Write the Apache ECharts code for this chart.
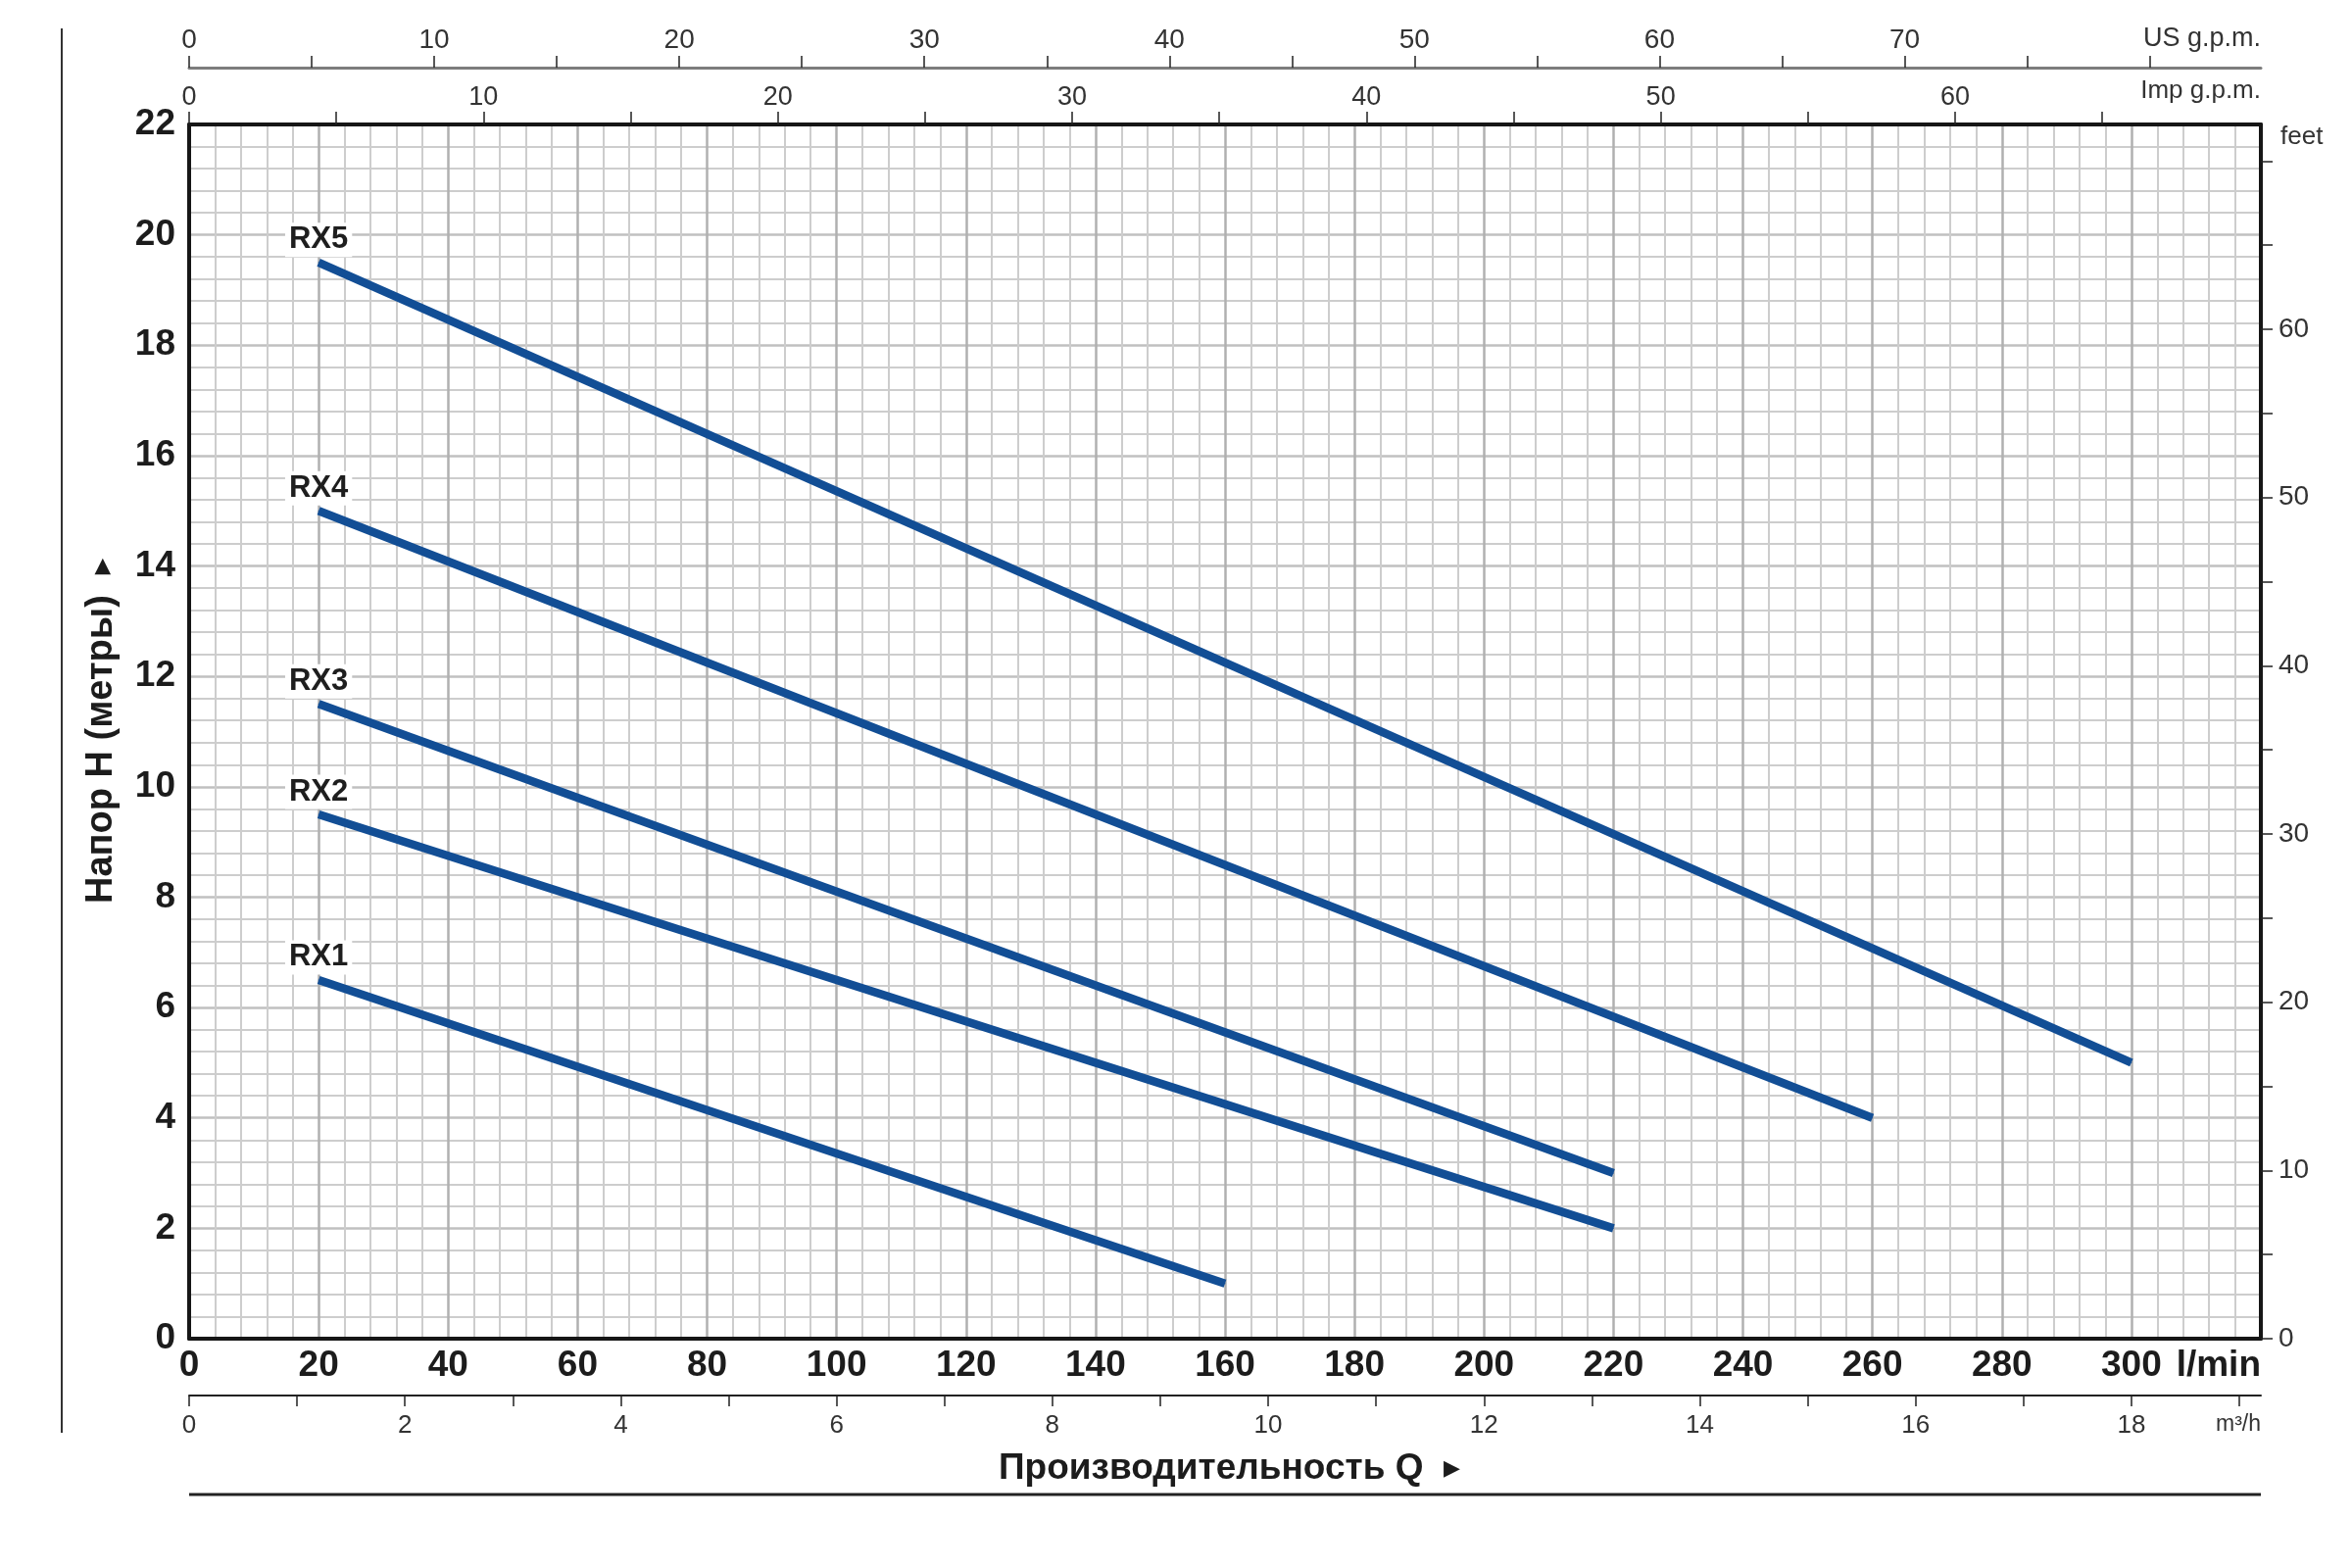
<!DOCTYPE html>
<html>
<head>
<meta charset="utf-8">
<script src="https://cdn.jsdelivr.net/npm/echarts@6/dist/echarts.min.js"></script>
<style>
html,body{margin:0;padding:0;background:#fff}
#chart{width:2400px;height:1600px}
</style>
</head>
<body>
<div id="chart"></div>
<script>
// ---- data ----
const seriesNames = ['RX1', 'RX2', 'RX3', 'RX4', 'RX5'];
const rx1 = [[20, 6.5], [160, 1.0]];
const rx2 = [[20, 9.5], [220, 2.0]];
const rx3 = [[20, 11.5], [220, 3.0]];
const rx4 = [[20, 15.0], [260, 4.0]];
const rx5 = [[20, 19.5], [300, 5.0]];
const seriesData = [rx1, rx2, rx3, rx4, rx5];

const flowMax = 320;            // l/min
const headMax = 22;             // m
const flowLabels = [0, 20, 40, 60, 80, 100, 120, 140, 160, 180, 200, 220, 240, 260, 280, 300];
const m3hTicks = [0, 1, 2, 3, 4, 5, 6, 7, 8, 9, 10, 11, 12, 13, 14, 15, 16, 17, 18, 19];
const m3hLabels = [0, 2, 4, 6, 8, 10, 12, 14, 16, 18];
const usTicks = [0, 5, 10, 15, 20, 25, 30, 35, 40, 45, 50, 55, 60, 65, 70, 75, 80];
const usLabels = [0, 10, 20, 30, 40, 50, 60, 70];
const impTicks = [0, 5, 10, 15, 20, 25, 30, 35, 40, 45, 50, 55, 60, 65];
const impLabels = [0, 10, 20, 30, 40, 50, 60];
const feetTicks = [0, 5, 10, 15, 20, 25, 30, 35, 40, 45, 50, 55, 60, 65, 70];
const feetLabels = [0, 10, 20, 30, 40, 50, 60];

const L_PER_USGAL = 3.785411784;
const L_PER_IMPGAL = 4.54609;
const FT_PER_M = 3.28084;

// ---- styles ----
const NARROW = "'Liberation Sans Narrow', 'Liberation Sans', Arial, sans-serif";
const SANS = "'Liberation Sans', Arial, sans-serif";
const LINE_COLOR = '#124e95';
const FRAME = { color: '#161616', width: 4 };

const chart = echarts.init(document.getElementById('chart'), null, { renderer: 'canvas' });

const series = seriesData.map((pts, si) => ({
  name: seriesNames[si],
  type: 'line',
  xAxisIndex: 0,
  yAxisIndex: 0,
  symbol: 'circle',
  symbolSize: 1,
  itemStyle: { color: LINE_COLOR },
  lineStyle: { color: LINE_COLOR, width: 8.5, cap: 'butt' },
  z: 5,
  label: {
    show: false,
    position: 'top',
    distance: 5,
    formatter: '{a}',
    fontFamily: NARROW,
    fontWeight: 'bold',
    fontSize: 31,
    color: '#1e1e1e',
    backgroundColor: '#ffffff',
    padding: [2, 4]
  },
  data: pts.map((p, i) => i === 0 ? { value: p, label: { show: true } } : { value: p })
}));

const option = {
  animation: false,
  backgroundColor: '#ffffff',
  grid: { left: 193, right: 93, top: 127, bottom: 234, containLabel: false },
  xAxis: [
    {
      type: 'value', position: 'bottom', min: 0, max: flowMax, interval: 20,
      axisLine: { show: true, onZero: false, lineStyle: FRAME },
      axisTick: { show: false },
      axisLabel: { customValues: flowLabels, fontFamily: NARROW, fontWeight: 'bold', fontSize: 37, color: '#1c1c1c', margin: 9 },
      splitLine: { show: true, lineStyle: { color: '#b0b0b0', width: 2.5 } },
      minorTick: { show: false, splitNumber: 5 },
      minorSplitLine: { show: true, lineStyle: { color: '#cdcdcd', width: 2 } },
      name: 'l/min', nameLocation: 'end', nameGap: 0,
      nameTextStyle: { align: 'right', verticalAlign: 'top', padding: [9, 0, 0, 0], fontFamily: NARROW, fontWeight: 'bold', fontSize: 37, color: '#1c1c1c' }
    },
    {
      type: 'value', position: 'top', min: 0, max: flowMax / L_PER_IMPGAL,
      axisLine: { show: true, onZero: false, lineStyle: FRAME },
      axisTick: { show: true, customValues: impTicks, length: 13, inside: false, lineStyle: { color: '#222', width: 1.5 } },
      axisLabel: { customValues: impLabels, fontFamily: NARROW, fontSize: 27, color: '#333', margin: 14 },
      splitLine: { show: false },
      name: 'Imp g.p.m.', nameLocation: 'end', nameGap: 0,
      nameTextStyle: { align: 'right', verticalAlign: 'bottom', padding: [0, 0, 21, 0], fontFamily: NARROW, fontSize: 26, color: '#333' }
    },
    {
      type: 'value', position: 'top', offset: 58, min: 0, max: flowMax / L_PER_USGAL,
      axisLine: { show: true, onZero: false, lineStyle: { color: '#7d7d7d', width: 3 } },
      axisTick: { show: true, customValues: usTicks, length: 12, inside: false, lineStyle: { color: '#222', width: 1.5 } },
      axisLabel: { customValues: usLabels, fontFamily: NARROW, fontSize: 28, color: '#333', margin: 14 },
      splitLine: { show: false },
      name: 'US g.p.m.', nameLocation: 'end', nameGap: 0,
      nameTextStyle: { align: 'right', verticalAlign: 'bottom', padding: [0, 0, 16, 0], fontFamily: NARROW, fontSize: 27, color: '#333' }
    },
    {
      type: 'value', position: 'bottom', offset: 58, min: 0, max: flowMax / (1000 / 60),
      axisLine: { show: true, onZero: false, lineStyle: { color: '#222', width: 2 } },
      axisTick: { show: true, customValues: m3hTicks, length: 11, inside: false, lineStyle: { color: '#222', width: 1.5 } },
      axisLabel: { customValues: m3hLabels, fontFamily: NARROW, fontSize: 26, color: '#333', margin: 18 },
      splitLine: { show: false },
      name: 'm³/h', nameLocation: 'end', nameGap: 0,
      nameTextStyle: { align: 'right', verticalAlign: 'top', padding: [18, 0, 0, 0], fontFamily: NARROW, fontSize: 23, color: '#333' }
    }
  ],
  yAxis: [
    {
      type: 'value', position: 'left', min: 0, max: headMax, interval: 2,
      axisLine: { show: true, onZero: false, lineStyle: FRAME },
      axisTick: { show: false },
      axisLabel: { fontFamily: NARROW, fontWeight: 'bold', fontSize: 37, color: '#1c1c1c', margin: 14 },
      splitLine: { show: true, lineStyle: { color: '#c0c0c0', width: 2.5 } },
      minorTick: { show: false, splitNumber: 5 },
      minorSplitLine: { show: true, lineStyle: { color: '#cdcdcd', width: 2 } },
      name: 'Напор H (метры)  {a|▶}', nameLocation: 'middle', nameGap: 70,
      nameTextStyle: { fontFamily: SANS, fontWeight: 'bold', fontSize: 38, color: '#1c1c1c', rich: { a: { fontSize: 20, color: '#1c1c1c' } } }
    },
    {
      type: 'value', position: 'right', min: 0, max: headMax * FT_PER_M,
      axisLine: { show: true, onZero: false, lineStyle: FRAME },
      axisTick: { show: true, customValues: feetTicks, length: 12, inside: false, lineStyle: { color: '#222', width: 1.5 } },
      axisLabel: { customValues: feetLabels, fontFamily: NARROW, fontSize: 28, color: '#333', margin: 18 },
      splitLine: { show: false },
      name: 'feet', nameLocation: 'end', nameGap: 0,
      nameTextStyle: { align: 'left', verticalAlign: 'top', padding: [0, 0, 0, 20], fontFamily: NARROW, fontSize: 26, color: '#333' }
    }
  ],
  graphic: [
    { type: 'line', shape: { x1: 63, y1: 29, x2: 63, y2: 1462 }, style: { stroke: '#333', lineWidth: 2 } },
    { type: 'line', shape: { x1: 193, y1: 1525, x2: 2307, y2: 1525 }, style: { stroke: '#222', lineWidth: 3 } },
    {
      type: 'text', left: 1019, top: 1480,
      style: {
        text: 'Производительность Q  {a|▶}',
        font: "bold 37px 'Liberation Sans', Arial, sans-serif",
        fill: '#1c1c1c',
        rich: { a: { fontSize: 22, fill: '#1c1c1c' } }
      }
    }
  ],
  series: series
};

chart.setOption(option);
</script>
</body>
</html>
